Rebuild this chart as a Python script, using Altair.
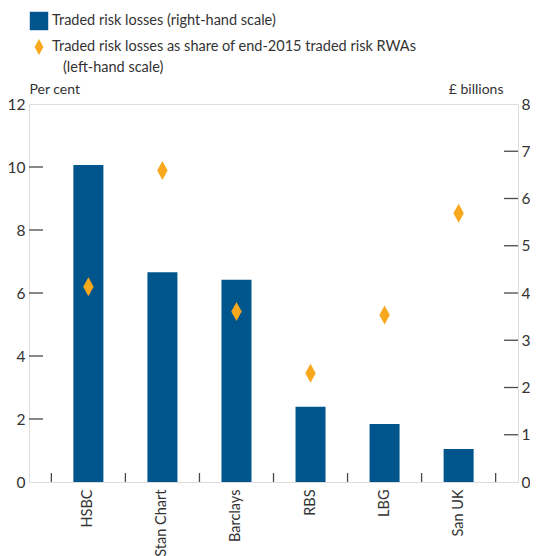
import altair as alt
import pandas as pd

banks = ["HSBC", "Stan Chart", "Barclays", "RBS", "LBG", "San UK"]
losses_bn = [6.71, 4.44, 4.28, 1.59, 1.23, 0.70]
share_pct = [6.20, 9.89, 5.41, 3.45, 5.30, 8.53]

left_tick_values = [2, 4, 6, 8, 10]
right_tick_values = [1, 2, 3, 4, 5, 6, 7]

legend_bar = ["Traded risk losses (right-hand scale)"]
legend_dia = ["Traded risk losses as share of end-2015 traded risk RWAs"]
legend_dia2 = ["(left-hand scale)"]

BLUE = "#00558C"
ORANGE = "#F8A81C"
AXC = "#4a4a4a"
TXT = "#333333"
FONT = "Lato"
FS_LAB = 15.5
FS_XLAB = 14.5
FS_LEG = 14.5
FS_TTL = 14
W, H = 489, 378
DIAMOND = "M0,-1L0.55,0L0,1L-0.55,0Z"

df = pd.DataFrame({"bank": banks, "losses": losses_bn, "share": share_pct})
df_last = df.tail(1)
df_lt = pd.DataFrame({"v": left_tick_values})
df_rt = pd.DataFrame({"v": right_tick_values})

xscale = alt.Scale(domain=banks, paddingInner=0, paddingOuter=0.302)
xaxis = alt.Axis(orient="bottom", title=None, ticks=False, domain=False,
                 labelAngle=270, labelAlign="right", labelBaseline="middle",
                 labelPadding=7, labelFontSize=FS_XLAB, labelColor=TXT, labelFont=FONT)

bars = alt.Chart(df).mark_bar(color=BLUE, width=30).encode(
    x=alt.X("bank:N", scale=xscale, sort=banks, axis=xaxis),
    y=alt.Y("losses:Q", scale=alt.Scale(domain=[0, 8], nice=False),
            axis=alt.Axis(orient="right", values=list(range(0, 9)), ticks=False, domain=False,
                          grid=False, labelPadding=3, labelFontSize=FS_LAB, labelColor=TXT,
                          labelFont=FONT, title="£ billions", titleAngle=0, titleX=-15,
                          titleY=-8, titleAlign="right", titleBaseline="bottom",
                          titleFontSize=FS_TTL, titleFontWeight="normal", titleColor=TXT,
                          titleFont=FONT)),
)

diamonds = alt.Chart(df).mark_point(shape=DIAMOND, size=361, filled=True, opacity=1,
                                    color=ORANGE).encode(
    x=alt.X("bank:N", scale=xscale, sort=banks, axis=xaxis),
    y=alt.Y("share:Q", scale=alt.Scale(domain=[0, 12], nice=False),
            axis=alt.Axis(orient="left", values=list(range(0, 13, 2)), ticks=False,
                          domain=False, grid=False, labelPadding=4, labelFontSize=FS_LAB,
                          labelColor=TXT, labelFont=FONT, title="Per cent", titleAngle=0,
                          titleX=0, titleY=-8, titleAlign="left", titleBaseline="bottom",
                          titleFontSize=FS_TTL, titleFontWeight="normal", titleColor=TXT,
                          titleFont=FONT)),
)

xticks = alt.Chart(df).mark_rule(color=AXC, strokeWidth=1.3).encode(
    x=alt.X("bank:N", scale=xscale, sort=banks, bandPosition=0, axis=xaxis),
    y=alt.value(H - 9), y2=alt.value(H),
)
xtick_end = alt.Chart(df_last).mark_rule(color=AXC, strokeWidth=1.3).encode(
    x=alt.X("bank:N", scale=xscale, sort=banks, bandPosition=1, axis=xaxis),
    y=alt.value(H - 9), y2=alt.value(H),
)

left_ticks = alt.Chart(df_lt).mark_rule(color=AXC, strokeWidth=1.3).encode(
    y=alt.Y("v:Q", scale=alt.Scale(domain=[0, 12], nice=False), axis=None),
    x=alt.value(0), x2=alt.value(14),
)
right_ticks = alt.Chart(df_rt).mark_rule(color=AXC, strokeWidth=1.3).encode(
    y=alt.Y("v:Q", scale=alt.Scale(domain=[0, 8], nice=False), axis=None),
    x=alt.value(W - 14), x2=alt.value(W),
)

leg1_sym = alt.Chart(pd.DataFrame({"t": legend_bar})).mark_square(
    size=340, color=BLUE, opacity=1, filled=True).encode(
    x=alt.value(10), y=alt.value(-83))
leg1_txt = alt.Chart(pd.DataFrame({"t": legend_bar})).mark_text(
    align="left", baseline="middle", fontSize=FS_LEG, font=FONT, color=TXT).encode(
    x=alt.value(23), y=alt.value(-83), text="t:N")
leg2_sym = alt.Chart(pd.DataFrame({"t": legend_dia})).mark_point(
    shape=DIAMOND, size=256, color=ORANGE, opacity=1, filled=True).encode(
    x=alt.value(10), y=alt.value(-57))
leg2_txt = alt.Chart(pd.DataFrame({"t": legend_dia})).mark_text(
    align="left", baseline="middle", fontSize=FS_LEG, font=FONT, color=TXT).encode(
    x=alt.value(23), y=alt.value(-57), text="t:N")
leg3_txt = alt.Chart(pd.DataFrame({"t": legend_dia2})).mark_text(
    align="left", baseline="middle", fontSize=FS_LEG, font=FONT, color=TXT).encode(
    x=alt.value(34), y=alt.value(-36), text="t:N")

chart = alt.layer(
    bars, diamonds, xticks, xtick_end, left_ticks, right_ticks,
    leg1_sym, leg1_txt, leg2_sym, leg2_txt, leg3_txt,
).resolve_scale(y="independent").resolve_axis(y="independent").properties(
    width=W, height=H,
    autosize=alt.AutoSizeParams(type="none"),
    padding={"left": 21, "top": 96, "right": 12, "bottom": 74},
).configure_view(stroke=AXC, strokeWidth=1.5).configure(background="white")

chart.save("out.html", embed_options={"renderer": "svg", "actions": False})
